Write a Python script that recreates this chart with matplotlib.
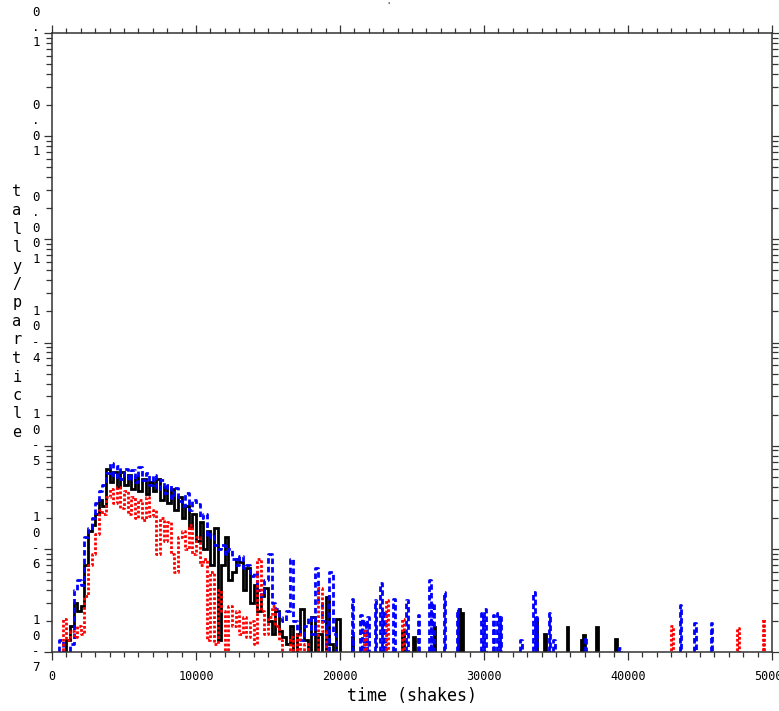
"""Time-dependent tally (MCNP-style plot): tally/particle vs time in shakes, log y."""

import numpy as np
import matplotlib
matplotlib.use("Agg")
import matplotlib.pyplot as plt
from matplotlib.ticker import LogLocator, MultipleLocator, NullFormatter
from matplotlib.transforms import offset_copy

MONO = "DejaVu Sans Mono"
PX = 0.72          # points per pixel at dpi 100

BIN = 250          # shakes per dense bin (0 .. 20000)
SPIKE_W = 110      # shakes, width of an isolated tail bin
UNIT = 1e-7        # values below are given in units of 1e-7
X_MAX = 50000
FLOOR = 1e-9       # zero bins are drawn below the axis

# dense part, 80 bins of 250 shakes each
black_dense = [0, 0, 0, 0, 1.3, 1.8, 3.0, 2.5,
               2.8, 7, 15, 17, 22, 30, 26, 60,
               44, 55, 40, 56, 42, 52, 38, 50,
               36, 48, 34, 44, 36, 48, 30, 40,
               28, 38, 24, 32, 20, 26, 16, 22,
               12, 18, 10, 15, 7, 16, 1.3, 7,
               13, 5, 6, 8, 7.5, 4, 6.5, 3,
               4.5, 2.5, 3.5, 4.2, 2, 1.5, 2.5, 1.6,
               1.4, 1.2, 1.8, 0, 1.5, 2.6, 1.3, 0,
               2.2, 0, 1.5, 0, 3.4, 1.2, 0, 2.1]
blue_dense = [0, 0, 1.3, 0, 0, 1.2, 4.0, 5.0,
              4.5, 13, 16, 20, 28, 36, 42, 54,
              68, 50, 64, 48, 60, 46, 58, 44,
              62, 46, 54, 42, 52, 38, 46, 35,
              42, 31, 39, 29, 26, 35, 24, 30,
              27, 20, 22, 13, 14, 11, 10, 11,
              9, 10, 8, 7, 8.5, 6.5, 7, 5.5,
              6, 4, 3.5, 5, 9, 3, 2.6, 2.2,
              2, 2.5, 8, 2, 1.6, 1.3, 1.8, 2.2,
              1.5, 6.5, 3, 2, 0, 6, 1.5, 0]
red_dense = [0, 0, 0, 2.1, 1.3, 1.6, 1.4, 1.8,
             1.5, 3.5, 7, 9, 14, 24, 22, 32,
             38, 28, 40, 25, 36, 22, 32, 20,
             30, 19, 32, 21, 24, 9, 20, 12,
             18, 9, 6, 13, 15, 10, 17, 9,
             13, 7, 8, 1.3, 6, 1.2, 4, 2.5,
             0, 2.8, 1.8, 2.5, 1.5, 2.2, 1.4, 2,
             1.2, 8, 2.5, 1.5, 2.2, 2.8, 1.8, 1.3,
             0, 0, 1.4, 0, 1.5, 0, 1.2, 0,
             0, 0, 4.2, 1.6, 0, 0, 0, 0]

# sparse tail past 20000 shakes: (time, value)
black_tail = [(20800, 1.4), (24300, 1.6), (25100, 1.4), (26500, 1.75),
              (28250, 2.6), (28400, 2.4), (33600, 2.1), (34200, 1.5),
              (35750, 1.75), (36750, 1.3), (36900, 1.45), (37800, 1.75),
              (39100, 1.35)]
blue_tail = [(20800, 3.3), (21400, 2.3), (21700, 2.0), (21900, 2.2),
             (22400, 3.2), (22800, 4.7), (23000, 2.5), (23700, 3.3),
             (24600, 3.2), (25400, 2.3), (26200, 5.0), (26400, 3.0),
             (27200, 3.8), (28100, 2.6), (29800, 2.4), (30000, 2.6),
             (30600, 2.3), (30900, 2.4), (31100, 2.2), (32500, 1.3),
             (33400, 3.8), (33600, 2.2), (34500, 2.4), (34800, 1.3),
             (37000, 1.4), (39400, 1.1), (43600, 2.85), (44600, 1.9),
             (45750, 1.9)]
red_tail = [(21700, 1.6), (23200, 3.2), (24300, 2.1), (43000, 1.8),
            (47600, 1.7), (49350, 2.1)]

decades = [1e-7, 1e-6, 1e-5, 1e-4, 1e-3, 1e-2, 1e-1]
decade_labels = ["10-7", "10-6", "10-5", "10-4", "0.001", "0.01", "0.1"]
y_title = "tally/particle"


def stepped(dense, tail):
    edges = [i * BIN for i in range(len(dense) + 1)]
    vals = list(dense)
    for t, v in tail:
        edges += [t, t + SPIKE_W]
        vals += [0, v]
    edges.append(X_MAX)
    vals.append(0)
    x = np.repeat(edges, 2)[1:-1]
    y = np.repeat(vals, 2) * UNIT
    return x, np.where(y > 0, y, FLOOR)


fig = plt.figure(figsize=(7.79, 7.11), dpi=100)
ax = fig.add_axes([52 / 779, 1 - 652 / 711, 720 / 779, 619 / 711])

plt.rcParams["lines.scale_dashes"] = False
x, y = stepped(black_dense, black_tail)
ax.plot(x, y, color="black", lw=2.0, solid_joinstyle="miter")
x, y = stepped(blue_dense, blue_tail)
ax.plot(x, y, color="#0000ff", lw=2.0, dashes=(4.0, 2.2))
x, y = stepped(red_dense, red_tail)
ax.plot(x, y, color="#ff0000", lw=2.0, dashes=(2.0, 1.4))

ax.set_yscale("log")
ax.set_xlim(0, X_MAX)
ax.set_ylim(1e-7, 1e-1)

ax.xaxis.set_major_locator(MultipleLocator(10000))
ax.xaxis.set_minor_locator(MultipleLocator(1000))
ax.yaxis.set_major_locator(LogLocator(base=10))
ax.yaxis.set_minor_locator(LogLocator(base=10, subs=np.arange(2, 10)))
ax.yaxis.set_major_formatter(NullFormatter())
ax.yaxis.set_minor_formatter(NullFormatter())

for s in ax.spines.values():
    s.set_linewidth(1.1)
    s.set_color("#333333")
ax.tick_params(which="both", direction="out", top=True, right=True,
               labeltop=False, labelright=False, color="#333333", width=0.9)
ax.tick_params(axis="x", which="major", length=5.8, pad=7, labelsize=8.5)
ax.tick_params(axis="x", which="minor", length=3.6)
ax.tick_params(axis="y", which="major", length=5.8)
ax.tick_params(axis="y", which="minor", length=4.6)
for lab in ax.get_xticklabels():
    lab.set_family(MONO)

# stacked y tick labels, one character per row
first_row = {3: 21, 4: 31, 5: 42}
base = ax.get_yaxis_transform()
for val, lab in zip(decades, decade_labels):
    top = first_row[len(lab)]
    for k, ch in enumerate(lab):
        tr = offset_copy(base, fig=fig, x=-16 * PX, y=(top - 15.5 * k) * PX,
                         units="points")
        ax.text(0, val, ch, transform=tr, ha="center", va="center",
                fontsize=9, family=MONO, clip_on=False)

# stacked y title
for k, ch in enumerate(y_title):
    fig.text(17 / 779, 1 - (192 + 18.5 * k) / 711, ch, ha="center",
             va="center", fontsize=11, family=MONO)

ax.set_xlabel("time (shakes)", fontsize=12, family=MONO, labelpad=3)
fig.text(388 / 779, 1 - 6 / 711, "'", fontsize=6, ha="center", va="center")

fig.savefig("out.png", dpi=100)
